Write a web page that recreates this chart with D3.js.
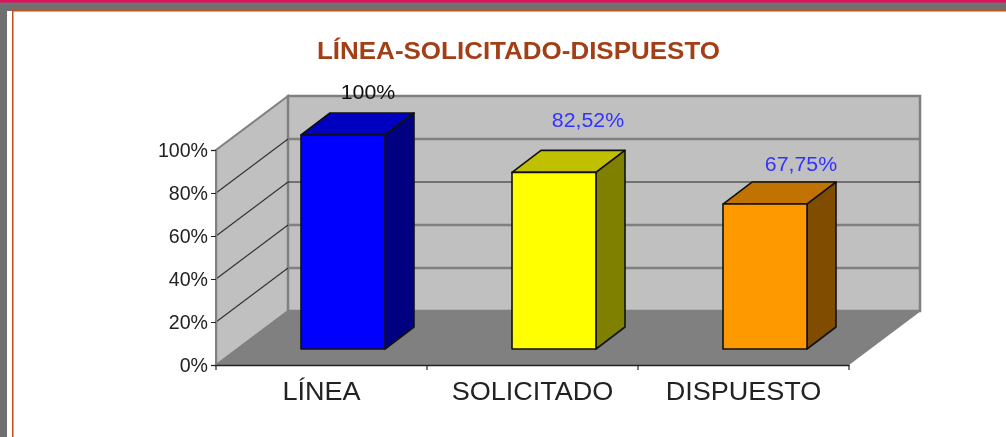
<!DOCTYPE html>
<html><head><meta charset="utf-8">
<script src="https://cdnjs.cloudflare.com/ajax/libs/d3/7.8.5/d3.min.js"></script>
<style>html,body{margin:0;padding:0;background:#fff;overflow:hidden}svg{display:block;filter:blur(0.35px)}text{font-family:"Liberation Sans",Arial,sans-serif}</style>
</head><body><svg id="c" width="1006" height="437"></svg>
<script>
const categories = ["LÍNEA","SOLICITADO","DISPUESTO"];
const values = [100,82.52,67.75];
const valueLabels = ["100%","82,52%","67,75%"];
const tickValues = [0,20,40,60,80,100];
const frontColors = ["#0000ff","#ffff00","#ff9900"];
const topColors = ["#0000c0","#c0c000","#c07300"];
const sideColors = ["#000080","#808000","#804d00"];
const labelColors = ["#111111","#3333ff","#3333ff"];
const labelOffsets = [[25,-36],[34,-45],[36,-33]];
const svg = d3.select("#c");
const stretch=(sel,f)=>sel.each(function(){this.setAttribute("textLength",this.getComputedTextLength()*f);this.setAttribute("lengthAdjust","spacingAndGlyphs");});
const g0 = svg.append("g");
g0.append("rect").attr("width",1006).attr("height",11).attr("fill","#707070");
g0.append("rect").attr("width",1006).attr("height",2.5).attr("fill","#e0105c");
g0.append("rect").attr("y",10).attr("width",7).attr("height",427).attr("fill","#707070");
g0.append("rect").attr("x",12).attr("y",10).attr("width",994).attr("height",1.5).attr("fill","#c0501a");
g0.append("rect").attr("x",12).attr("y",10).attr("width",1.5).attr("height",427).attr("fill","#c0501a");
svg.append("text").attr("x",518.5).attr("y",59).attr("text-anchor","middle").attr("font-size",24.5).attr("font-weight","bold").attr("fill","#a33f16").text("LÍNEA-SOLICITADO-DISPUESTO").call(stretch,1.06);
const L=216,R=849,B=365,T=150,DX=72,DY=-54;
const x=d3.scaleBand().domain(categories).range([L,R]);
const y=d3.scaleLinear().domain([0,100]).range([B,T]);
const g=svg.append("g");
const pts=a=>a.map(p=>p.join(",")).join(" ");
g.append("polygon").attr("points",pts([[L,y(0)],[L+DX,y(0)+DY],[L+DX,y(100)+DY],[L,y(100)]])).attr("fill","#c0c0c0").attr("stroke","#808080").attr("stroke-width",2);
g.append("polygon").attr("points",pts([[L+DX,y(0)+DY],[R+DX-1,y(0)+DY],[R+DX-1,y(100)+DY],[L+DX,y(100)+DY]])).attr("fill","#c0c0c0").attr("stroke","#808080").attr("stroke-width",2.5);
g.append("polygon").attr("points",pts([[L,B],[L+DX,B+DY],[R+DX,B+DY],[R,B]])).attr("fill","#808080");
tickValues.slice(1,-1).forEach(t=>{
  g.append("line").attr("x1",L).attr("x2",L+DX).attr("y1",y(t)).attr("y2",y(t)+DY).attr("stroke","#333").attr("stroke-width",1.2);
  g.append("line").attr("x1",L+DX).attr("x2",R+DX-1).attr("y1",y(t)+DY).attr("y2",y(t)+DY).attr("stroke",t===60?"#222":"#808080").attr("stroke-width",t===60?1.2:2.5);
});
const axL=d3.axisLeft(y).tickValues(tickValues).tickSize(5).tickFormat(d=>d+"%");
const ay=svg.append("g").attr("transform",`translate(${L},0)`).call(axL);
ay.select(".domain").attr("stroke","#808080").attr("stroke-width",1.5);
ay.selectAll("line").attr("stroke","#222");
ay.selectAll("text").attr("font-size",19.6).attr("fill","#222").attr("x",-8).attr("font-family","Liberation Sans");
const axB=d3.axisBottom(x).tickSize(0).tickSizeOuter(0);
const ax=svg.append("g").attr("transform",`translate(0,${B})`).call(axB);
ax.select(".domain").attr("stroke","#222").attr("stroke-width",1.5);
ax.selectAll("text").attr("font-size",26).attr("fill","#222").attr("y",17).attr("dy","0.71em").call(stretch,1.04);
[L,L+x.step(),L+2*x.step(),R].forEach(v=>svg.append("line").attr("x1",v).attr("x2",v).attr("y1",B).attr("y2",B+5).attr("stroke","#222").attr("stroke-width",1.2));
const BASE=16,BW=84,BO=85,BDX=29,BDY=-22;
const yb=d3.scaleLinear().domain([0,100]).range([B-BASE,T-15]);
categories.forEach((c,i)=>{
  const x0=x(c)+BO,x1=x0+BW,yt=yb(values[i]),yB=yb(0);
  const s={stroke:"#111","stroke-width":1.6,"stroke-linejoin":"round"};
  const add=(p,f)=>{const e=g.append("polygon").attr("points",pts(p)).attr("fill",f);Object.entries(s).forEach(([k,v])=>e.attr(k,v));};
  add([[x0,yt],[x0+BDX,yt+BDY],[x1+BDX,yt+BDY],[x1,yt]],topColors[i]);
  add([[x1,yt],[x1+BDX,yt+BDY],[x1+BDX,yB+BDY],[x1,yB]],sideColors[i]);
  add([[x0,yt],[x1,yt],[x1,yB],[x0,yB]],frontColors[i]);
  g.append("text").attr("x",x0+BW/2+labelOffsets[i][0]).attr("y",yt+labelOffsets[i][1]).attr("text-anchor","middle").attr("font-size",20.5).attr("fill",labelColors[i]).text(valueLabels[i]).call(stretch,1.04);
});
</script></body></html>
